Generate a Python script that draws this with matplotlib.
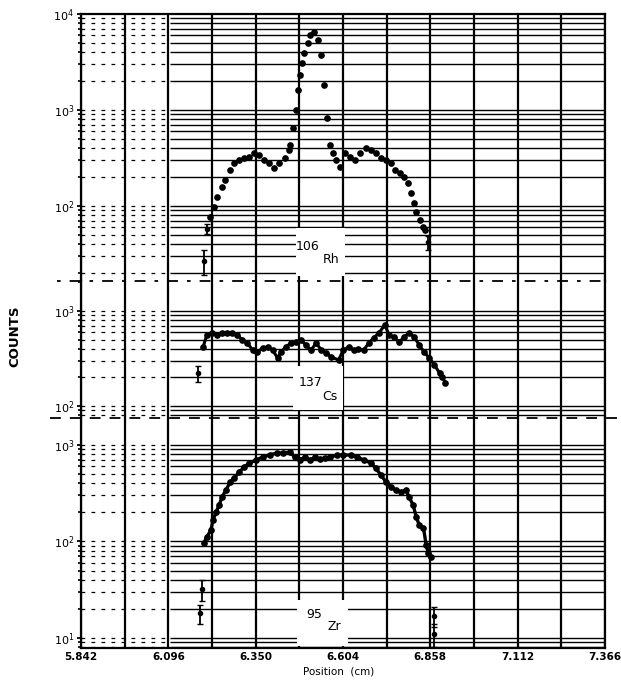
import numpy as np
import matplotlib
matplotlib.use("Agg")
import matplotlib.pyplot as plt
from matplotlib.lines import Line2D
from matplotlib.patches import Rectangle

# ---------------- data ----------------
pos_ticks = [5.842, 6.096, 6.350, 6.604, 6.858, 7.112, 7.366]
pos_tick_labels = ["5.842", "6.096", "6.350", "6.604", "6.858", "7.112", "7.366"]

rh_pos = [6.217, 6.229, 6.238, 6.252, 6.261, 6.276, 6.287, 6.302, 6.317, 6.331,
          6.346, 6.361, 6.375, 6.390, 6.404, 6.419, 6.434, 6.448, 6.451, 6.460,
          6.466, 6.472, 6.478, 6.486, 6.492, 6.501, 6.507, 6.519, 6.530, 6.539,
          6.548, 6.557, 6.565, 6.574, 6.583, 6.595, 6.609, 6.624, 6.638, 6.653,
          6.671, 6.685, 6.700, 6.715, 6.729, 6.744, 6.756, 6.770, 6.782, 6.794,
          6.802, 6.811, 6.817, 6.829, 6.837, 6.843]
rh_counts = [77, 98, 123, 158, 186, 237, 283, 300, 316, 325,
             357, 340, 300, 283, 250, 283, 316, 383, 434, 650,
             1000, 1620, 2300, 3080, 3900, 5000, 6040, 6500, 5360, 3740,
             1820, 824, 434, 357, 300, 256, 357, 325, 300, 357,
             400, 380, 357, 316, 300, 283, 237, 219, 200, 174,
             138, 108, 87, 72, 60, 56]
rh_err_pos = [6.200, 6.208, 6.852]
rh_err_counts = [27, 58, 42]
rh_err_size = [8, 7, 7]

cs_pos = [6.197, 6.208, 6.223, 6.238, 6.252, 6.267, 6.282, 6.297, 6.311, 6.326,
          6.341, 6.355, 6.370, 6.385, 6.399, 6.414, 6.423, 6.438, 6.452, 6.467,
          6.482, 6.496, 6.511, 6.526, 6.541, 6.555, 6.570, 6.591, 6.605, 6.620,
          6.635, 6.649, 6.664, 6.679, 6.693, 6.708, 6.726, 6.738, 6.752, 6.767,
          6.782, 6.796, 6.811, 6.826, 6.840, 6.855, 6.870, 6.885, 6.893, 6.902]
cs_counts = [418, 559, 586, 559, 586, 586, 586, 559, 495, 460,
             388, 370, 407, 418, 388, 320, 370, 418, 460, 472,
             495, 438, 388, 460, 388, 361, 328, 305, 388, 418,
             388, 398, 388, 460, 520, 586, 713, 559, 532, 472,
             532, 586, 532, 438, 370, 320, 270, 222, 202, 175]
cs_err_pos = [6.182]
cs_err_counts = [222]
cs_err_size = [45]

zr_pos = [6.199, 6.208, 6.220, 6.226, 6.235, 6.244, 6.252, 6.264, 6.276, 6.288,
          6.302, 6.317, 6.332, 6.352, 6.370, 6.391, 6.411, 6.429, 6.449, 6.464,
          6.479, 6.493, 6.508, 6.523, 6.538, 6.552, 6.567, 6.588, 6.605, 6.626,
          6.646, 6.664, 6.685, 6.699, 6.714, 6.729, 6.743, 6.758, 6.773, 6.787,
          6.796, 6.808, 6.817, 6.826, 6.838, 6.846, 6.852, 6.861]
zr_counts = [96, 111, 132, 167, 202, 239, 289, 342, 414, 455,
             525, 592, 651, 699, 751, 788, 826, 826, 846, 751,
             699, 751, 699, 751, 716, 733, 751, 788, 788, 788,
             751, 699, 651, 578, 489, 414, 367, 342, 326, 342,
             289, 239, 179, 148, 138, 92, 76, 69]
zr_err_pos = [6.194, 6.188, 6.870, 6.870]
zr_err_counts = [32, 18, 17, 11]
zr_err_size = [8, 4, 4, 3]

# ---------------- figure ----------------
W, H = 621, 685
fig = plt.figure(figsize=(W / 100, H / 100), dpi=100)

def fx(px):
    return px / W

def fy(py):
    return 1 - py / H

LEFT, RIGHT = 81, 605
panels = [
    dict(top=14, bot=281, ylim=(16.6, 1e4), cap=1e4),
    dict(top=281, bot=418, ylim=(74.8, 2070), cap=1e3),
    dict(top=418, bot=648, ylim=(7.87, 1905), cap=1e3),
]
axes = []
for p in panels:
    ax = fig.add_axes([fx(LEFT), fy(p["bot"]), fx(RIGHT - LEFT), (p["bot"] - p["top"]) / H])
    ax.set_yscale("log")
    ax.set_ylim(*p["ylim"])
    ax.set_xlim(pos_ticks[0], pos_ticks[-1])
    axes.append(ax)

split = 6.10
for ax, p in zip(axes, panels):
    lo, hi = ax.get_ylim()
    vals = []
    for d in range(0, 5):
        for m in range(1, 10):
            v = m * 10 ** d
            if lo < v <= p["cap"] and v < hi * 0.999:
                vals.append(v)
    ax.hlines(vals, pos_ticks[0], split, colors="k", lw=0.9,
              linestyles=(0, (3, 5)), zorder=1)
    ax.hlines(vals, split, pos_ticks[-1], colors="k", lw=1.0, zorder=1)
    # vertical grid
    ax.set_xticks(pos_ticks)
    ax.set_xticks([(a + b) / 2 for a, b in zip(pos_ticks[:-1], pos_ticks[1:])], minor=True)
    ax.grid(axis="x", which="both", color="k", lw=1.6, zorder=1)
    ax.tick_params(axis="x", which="both", length=0, labelbottom=False)
    ax.tick_params(axis="y", which="major", direction="out", length=3, width=1.3,
                   pad=2, labelsize=8)
    ax.tick_params(axis="y", which="minor", direction="out", length=2.5, width=1.2,
                   labelleft=False)
    for s in ax.spines.values():
        s.set_linewidth(1.6)
    ax.set_axisbelow(True)

# panel borders
axes[0].spines["bottom"].set_visible(False)
axes[1].spines["top"].set_visible(False)
axes[1].spines["bottom"].set_visible(False)
axes[2].spines["top"].set_visible(False)

axes[2].tick_params(axis="x", which="major", labelbottom=True, pad=3, labelsize=7.5)
axes[2].set_xticklabels(pos_tick_labels, fontweight="bold")

for ax in axes:
    ax.yaxis.set_major_formatter(matplotlib.ticker.FuncFormatter(
        lambda v, _: r"$10^{%d}$" % int(round(np.log10(v)))))

mk = dict(marker="o", color="k", ms=3.8, ls="none", zorder=3)
axes[0].plot(rh_pos, rh_counts, **mk)
axes[0].errorbar(rh_err_pos, rh_err_counts, yerr=rh_err_size, fmt="o", color="k",
                 ms=3, capsize=2, elinewidth=1.3, zorder=3)
axes[1].plot(cs_pos, cs_counts, color="k", lw=2.2, zorder=3)
axes[1].plot(cs_pos, cs_counts, **mk)
axes[1].errorbar(cs_err_pos, cs_err_counts, yerr=cs_err_size, fmt="o", color="k",
                 ms=3, capsize=2, elinewidth=1.3, zorder=3)
axes[2].plot(zr_pos, zr_counts, color="k", lw=2.4, zorder=3)
axes[2].plot(zr_pos, zr_counts, **mk)
axes[2].errorbar(zr_err_pos, zr_err_counts, yerr=zr_err_size, fmt="o", color="k",
                 ms=3, capsize=2, elinewidth=1.3, zorder=3)

# dashed separators between panels
fig.add_artist(Line2D([fx(57), fx(RIGHT)], [fy(281), fy(281)], color="k", lw=1.3,
                      ls=(0, (2, 5, 6, 5))))
fig.add_artist(Line2D([fx(50), fx(621)], [fy(418), fy(418)], color="k", lw=1.3,
                      ls=(0, (6, 5))))

# isotope labels with white boxes
boxes = [(296, 228, 345, 276), (293, 366, 343, 410), (297, 600, 348, 646)]
for x0, y0, x1, y1 in boxes:
    fig.add_artist(Rectangle((fx(x0), fy(y1)), fx(x1 - x0), (y1 - y0) / H,
                             transform=fig.transFigure, facecolor="white",
                             edgecolor="none", zorder=4))
labels = [("106", 308, 246, "Rh", 331, 259),
          ("137", 311, 383, "Cs", 330, 396),
          ("95", 314, 615, "Zr", 334, 627)]
for num, nx, ny, sym, sx, sy in labels:
    fig.text(fx(nx), fy(ny), num, ha="center", va="center", fontsize=9, zorder=5)
    fig.text(fx(sx), fy(sy), sym, ha="center", va="center", fontsize=9, zorder=5)

fig.text(fx(15), fy(336), "COUNTS", rotation=90, ha="center", va="center",
         fontsize=9.5, fontweight="bold")
fig.text(fx(339), fy(672), "Position  (cm)", ha="center", va="center", fontsize=7.5)

fig.savefig("out.png", dpi=100)
